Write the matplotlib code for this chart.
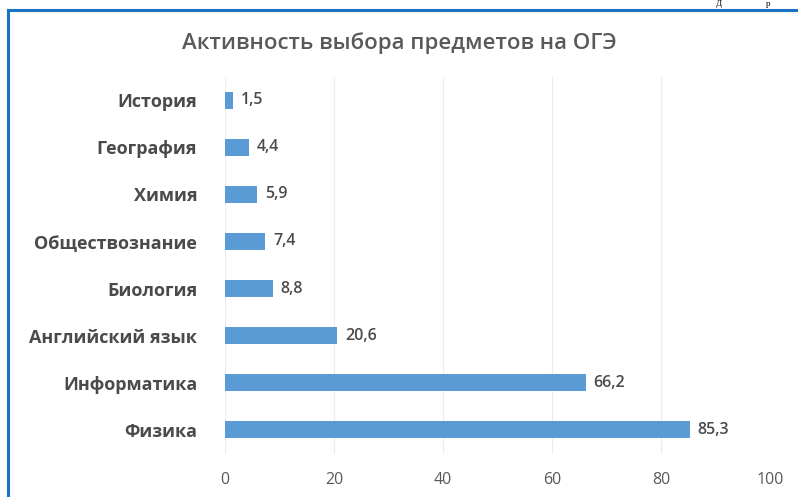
import matplotlib

matplotlib.use("Agg")

import matplotlib.pyplot as plt
from matplotlib.lines import Line2D

subjects = ["История", "География", "Химия", "Обществознание", "Биология",
            "Английский язык", "Информатика", "Физика"]
shares = [1.5, 4.4, 5.9, 7.4, 8.8, 20.6, 66.2, 85.3]
x_ticks = [0, 20, 40, 60, 80, 100]

TEXT = "#595959"
LABEL = "#4a4a4a"
BAR = "#5b9bd5"
FONT = ["Open Sans", "DejaVu Sans"]

fig = plt.figure(figsize=(7.98, 4.97), dpi=100)
ax = fig.add_axes([0.282, 0.0875, 0.683, 0.7585])

ypos = list(range(len(subjects)))
ax.barh(ypos, shares, height=0.36, color=BAR, zorder=2)
for y, v in zip(ypos, shares):
    ax.text(v + 1.4, y, f"{v:.1f}".replace(".", ","), va="center", ha="left",
            fontsize=11.5, color=LABEL, family=FONT, fontweight="semibold")

ax.set_xlim(0, 100)
ax.set_ylim(len(subjects) - 0.5, -0.5)
ax.set_yticks(ypos)
ax.set_yticklabels(subjects, family=FONT, fontsize=13, color=LABEL, fontweight="bold")
ax.set_xticks(x_ticks)
ax.set_xticklabels([str(t) for t in x_ticks], family=FONT, fontsize=11.5, color=TEXT)
ax.tick_params(axis="y", length=0, pad=20)
ax.tick_params(axis="x", length=0, pad=13)
ax.grid(axis="x", color="#ececec", linewidth=0.8, zorder=0)
for s in ax.spines.values():
    s.set_visible(False)

fig.text(0.5, 0.913, "Активность выбора предметов на ОГЭ", ha="center", va="center",
         fontsize=16, color=TEXT, family=FONT, fontweight="semibold")

# screenshot frame and the document text just above it
fig.add_artist(Line2D([7.5 / 798, 1], [1 - 9.5 / 497] * 2, transform=fig.transFigure,
                      color="#1a72c4", linewidth=2.2))
fig.add_artist(Line2D([7.5 / 798] * 2, [0, 1 - 9.5 / 497], transform=fig.transFigure,
                      color="#1a72c4", linewidth=2.2))
fig.text(716 / 798, 1 - 0.5 / 497, "Д", fontsize=6.5, family="Liberation Serif",
         color="black", va="top")
fig.text(766 / 798, 1 - 0.5 / 497, "р", fontsize=6.5, family="Liberation Serif",
         color="black", va="top")

fig.savefig("out.png", dpi=100)
